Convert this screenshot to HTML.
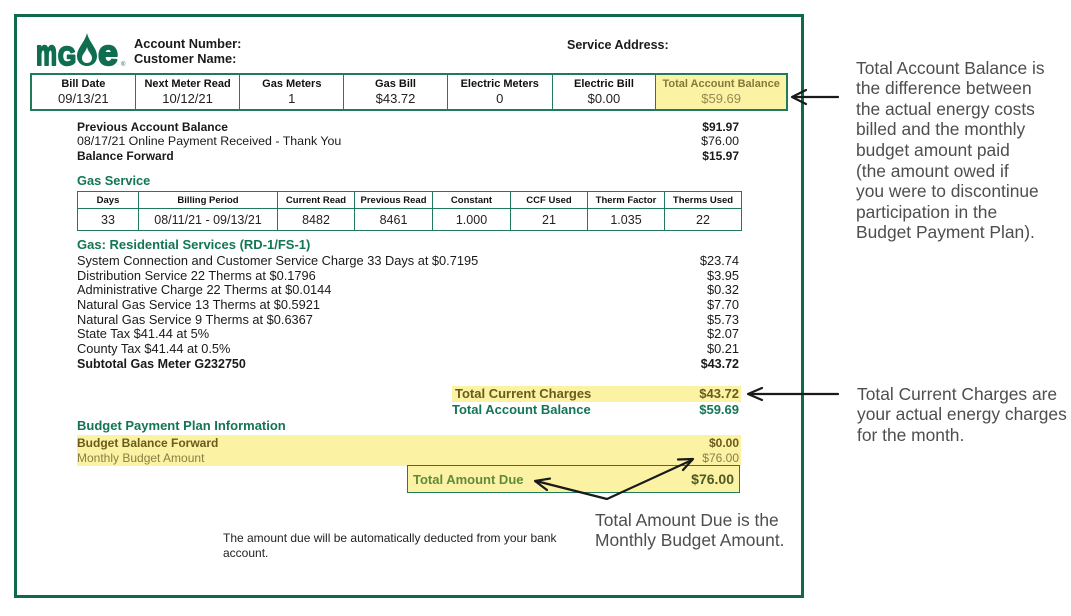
<!DOCTYPE html>
<html><head><meta charset="utf-8"><style>
html,body{margin:0;padding:0;background:#fff;}
body{width:1071px;height:616px;position:relative;overflow:hidden;font-family:"Liberation Sans",Arial,sans-serif;color:#1a1a1a;}
.t{position:absolute;white-space:nowrap;line-height:14px;}
.r{position:absolute;white-space:nowrap;line-height:14px;right:332px;text-align:right;}
.b{font-weight:bold;}
.g{color:#127556;}
.ol{color:#6a5a1c;}
.ol2{color:#8d7d45;}
.ann{position:absolute;font-size:17.4px;color:#4e4e4e;line-height:20.6px;white-space:nowrap;}
.tt{position:absolute;display:flex;box-sizing:border-box;border:2px solid #1f7b5a;}
.tt .c{box-sizing:border-box;border-right:1.5px solid #1f7b5a;text-align:center;height:100%;}
.tt .c:last-child{border-right:none;}
.tt .h{font-weight:bold;font-size:11px;line-height:14px;margin-top:2px;color:#111;}
.tt .v{font-size:13px;line-height:16px;color:#222;}
table.gs{position:absolute;border-collapse:collapse;table-layout:fixed;}
table.gs td{border:1.5px solid #1f7b5a;padding:0;text-align:center;white-space:nowrap;}
table.gs tr.h td{font-weight:bold;font-size:9.5px;height:16px;color:#111;}
table.gs tr.v td{font-size:12.5px;height:21px;color:#222;}
.yel{position:absolute;background:#fbf2a4;}
</style></head><body>

<!-- outer border -->
<div style="position:absolute;left:14px;top:14px;width:790px;height:584px;box-sizing:border-box;border:3px solid #0e6a4e;"></div>

<!-- logo -->
<svg style="position:absolute;left:0;top:0" width="140" height="80">
  <g fill="#0e6e4f" stroke="#0e6e4f" stroke-width="2" stroke-linejoin="round">
  <text x="36" y="65" font-family="Liberation Sans" font-weight="bold" font-size="36" textLength="21" lengthAdjust="spacingAndGlyphs">m</text>
  <text x="58" y="65" font-family="Liberation Sans" font-weight="bold" font-size="26" textLength="18" lengthAdjust="spacingAndGlyphs">G</text>
  <text x="98" y="65" font-family="Liberation Sans" font-weight="bold" font-size="36" textLength="20" lengthAdjust="spacingAndGlyphs">e</text>
  </g>
  <path d="M87,33 C85,42 77,48 77,56 C77,62 81,66 87,66 C93,66 97,62 97,56 C97,48 89,42 87,33 Z" fill="#0e6e4f"/>
  <path d="M87,47 C86,52 82,54 82,58 C82,61 84,63 87,63 C90,63 92,61 92,58 C92,54 88,52 87,47 Z" fill="#fff"/>
  <text x="121" y="66" font-family="Liberation Sans" font-size="6" fill="#0e6e4f">®</text>
</svg>

<div class="t b" style="left:134px;top:37px;font-size:12.8px;">Account Number:</div>
<div class="t b" style="left:134px;top:52px;font-size:12.8px;">Customer Name:</div>
<div class="t b" style="left:567px;top:38px;font-size:12.5px;">Service Address:</div>

<!-- top table -->
<div class="tt" style="left:30px;top:73px;width:758px;height:38px;">
  <div class="c" style="width:104px"><div class="h">Bill Date</div><div class="v">09/13/21</div></div>
  <div class="c" style="width:105px"><div class="h">Next Meter Read</div><div class="v">10/12/21</div></div>
  <div class="c" style="width:104px"><div class="h">Gas Meters</div><div class="v">1</div></div>
  <div class="c" style="width:104px"><div class="h">Gas Bill</div><div class="v">$43.72</div></div>
  <div class="c" style="width:105px"><div class="h">Electric Meters</div><div class="v">0</div></div>
  <div class="c" style="width:104px"><div class="h">Electric Bill</div><div class="v">$0.00</div></div>
  <div class="c" style="width:130px;background:#fbf2a4;"><div class="h" style="color:#87783a">Total Account Balance</div><div class="v" style="color:#978852">$59.69</div></div>
</div>

<!-- previous balance -->
<div class="t b" style="left:77px;top:120px;font-size:12px;">Previous Account Balance</div>
<div class="t" style="left:77px;top:134px;font-size:12.4px;">08/17/21 Online Payment Received - Thank You</div>
<div class="t b" style="left:77px;top:149px;font-size:12px;">Balance Forward</div>
<div class="r b" style="top:120px;font-size:12px;">$91.97</div>
<div class="r" style="top:134px;font-size:12.4px;">$76.00</div>
<div class="r b" style="top:149px;font-size:12px;">$15.97</div>

<!-- gas service -->
<div class="t b g" style="left:77px;top:174px;font-size:12.8px;">Gas Service</div>
<table class="gs" style="left:77px;top:191px;width:664px;">
  <colgroup><col style="width:61px"><col style="width:139px"><col style="width:77px"><col style="width:78px"><col style="width:78px"><col style="width:77px"><col style="width:77px"><col style="width:77px"></colgroup>
  <tr class="h"><td>Days</td><td>Billing Period</td><td>Current Read</td><td>Previous Read</td><td>Constant</td><td>CCF Used</td><td>Therm Factor</td><td>Therms Used</td></tr>
  <tr class="v"><td>33</td><td>08/11/21 - 09/13/21</td><td>8482</td><td>8461</td><td>1.000</td><td>21</td><td>1.035</td><td>22</td></tr>
</table>

<div class="t b g" style="left:77px;top:238px;font-size:13px;">Gas: Residential Services (RD-1/FS-1)</div>
<div class="t" style="left:77px;top:254px;font-size:12.8px;">System Connection and Customer Service Charge 33 Days at $0.7195</div>
<div class="t" style="left:77px;top:269px;font-size:12.8px;">Distribution Service 22 Therms at $0.1796</div>
<div class="t" style="left:77px;top:283px;font-size:12.8px;">Administrative Charge 22 Therms at $0.0144</div>
<div class="t" style="left:77px;top:298px;font-size:12.8px;">Natural Gas Service 13 Therms at $0.5921</div>
<div class="t" style="left:77px;top:313px;font-size:12.8px;">Natural Gas Service 9 Therms at $0.6367</div>
<div class="t" style="left:77px;top:327px;font-size:12.8px;">State Tax $41.44 at 5%</div>
<div class="t" style="left:77px;top:342px;font-size:12.8px;">County Tax $41.44 at 0.5%</div>
<div class="t b" style="left:77px;top:357px;font-size:12.5px;">Subtotal Gas Meter G232750</div>
<div class="r" style="top:254px;font-size:12.8px;">$23.74</div>
<div class="r" style="top:269px;font-size:12.8px;">$3.95</div>
<div class="r" style="top:283px;font-size:12.8px;">$0.32</div>
<div class="r" style="top:298px;font-size:12.8px;">$7.70</div>
<div class="r" style="top:313px;font-size:12.8px;">$5.73</div>
<div class="r" style="top:327px;font-size:12.8px;">$2.07</div>
<div class="r" style="top:342px;font-size:12.8px;">$0.21</div>
<div class="r b" style="top:357px;font-size:12.5px;">$43.72</div>

<!-- totals -->
<div class="yel" style="left:452px;top:386px;width:289px;height:16px;"></div>
<div class="t b ol" style="left:455px;top:387px;font-size:13px;">Total Current Charges</div>
<div class="r b ol" style="top:387px;font-size:13px;">$43.72</div>
<div class="t b g" style="left:452px;top:403px;font-size:13px;">Total Account Balance</div>
<div class="r b g" style="top:403px;font-size:13px;">$59.69</div>

<div class="t b g" style="left:77px;top:419px;font-size:13px;">Budget Payment Plan Information</div>
<div class="yel" style="left:77px;top:435px;width:664px;height:31px;"></div>
<div class="t b ol" style="left:77px;top:436px;font-size:12px;">Budget Balance Forward</div>
<div class="t ol2" style="left:77px;top:451px;font-size:12px;">Monthly Budget Amount</div>
<div class="r b ol" style="top:436px;font-size:12px;">$0.00</div>
<div class="r ol2" style="top:451px;font-size:12px;">$76.00</div>

<div style="position:absolute;left:407px;top:465px;width:333px;height:28px;box-sizing:border-box;border:1.5px solid #1f7b5a;background:#fbf2a4;"></div>
<div class="t b" style="left:413px;top:473px;font-size:13px;color:#5f8a3a;">Total Amount Due</div>
<div class="t b" style="right:337px;top:472px;font-size:14px;color:#4f5a22;">$76.00</div>

<div class="t" style="left:223px;top:531px;font-size:12px;color:#222;">The amount due will be automatically deducted from your bank</div>
<div class="t" style="left:223px;top:546px;font-size:12px;color:#222;">account.</div>

<!-- annotations -->
<div class="ann" style="left:856px;top:57.7px;">Total Account Balance is<br>the difference between<br>the actual energy costs<br>billed and the monthly<br>budget amount paid<br>(the amount owed if<br>you were to discontinue<br>participation in the<br>Budget Payment Plan).</div>
<div class="ann" style="left:857px;top:383.7px;">Total Current Charges are<br>your actual energy charges<br>for the month.</div>
<div class="ann" style="left:595px;top:509.7px;">Total Amount Due is the<br>Monthly Budget Amount.</div>

<!-- arrows -->
<svg style="position:absolute;left:0;top:0" width="1071" height="616">
  <g stroke="#1a1a1a" stroke-width="2.2" fill="none" stroke-linecap="round" stroke-linejoin="round">
    <line x1="838" y1="97" x2="793" y2="97"/>
    <polyline points="806,90 792,97 806,104"/>
    <line x1="838" y1="394" x2="749" y2="394"/>
    <polyline points="762,388 748,394 762,400"/>
    <polyline points="536,481 607,499 692,460"/>
    <polyline points="547,490 535,481 550,478.6"/>
    <polyline points="683,470 693,459 678,459.5"/>
  </g>
</svg>

</body></html>
